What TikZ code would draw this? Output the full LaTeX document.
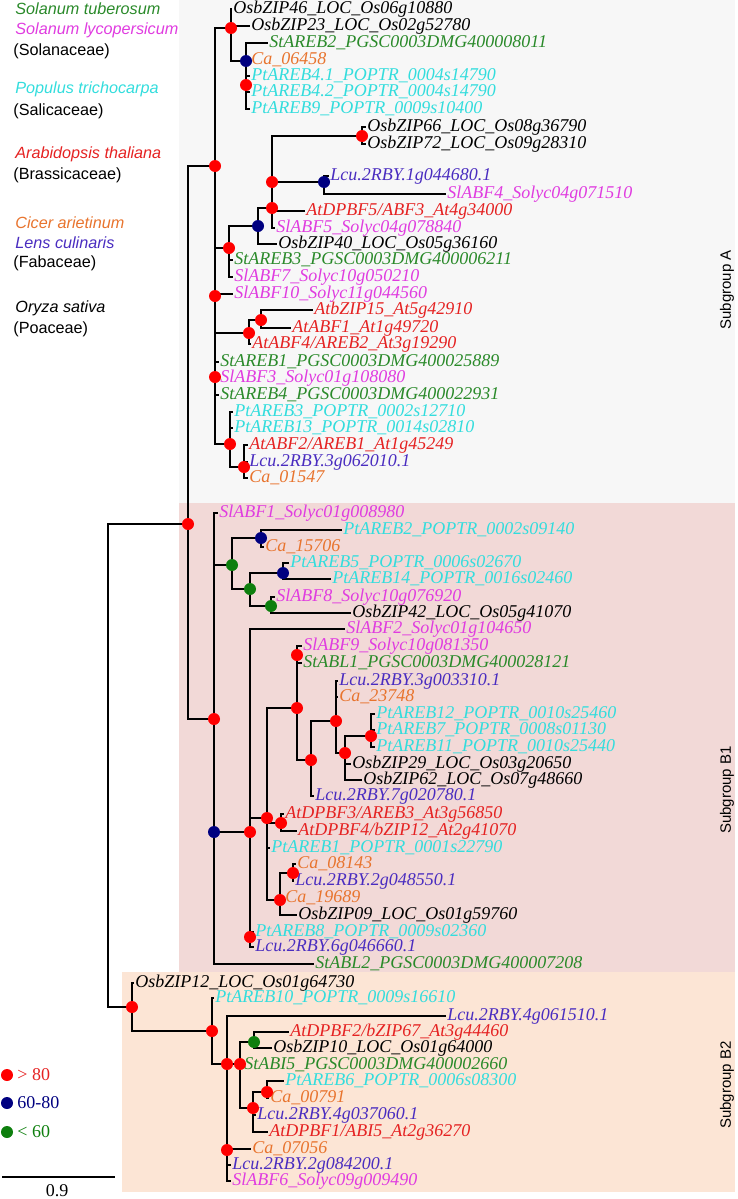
\documentclass[tikz,border=0pt]{standalone}
\usepackage{fontspec}
\setmainfont{Liberation Serif}
\setsansfont{Liberation Sans}
\definecolor{colSt}{HTML}{2A8A2A}
\definecolor{colSl}{HTML}{E03CE0}
\definecolor{colPt}{HTML}{33DDDD}
\definecolor{colAt}{HTML}{E52222}
\definecolor{colCa}{HTML}{E8742E}
\definecolor{colLc}{HTML}{4A2DC0}
\definecolor{dotR}{HTML}{FF0000}
\definecolor{dotB}{HTML}{000080}
\definecolor{dotG}{HTML}{0E7F0E}
\definecolor{bgA}{HTML}{F7F7F7}
\definecolor{bgBa}{HTML}{F2D9D7}
\definecolor{bgBb}{HTML}{FCE5D5}

\begin{document}
\begin{tikzpicture}[x=0.5pt, y=-0.5pt,
    br/.style={line width=1pt},
    lf/.style={anchor=west, inner sep=0.5pt, text height=6.5pt, text depth=2pt,
        font=\fontsize{9}{9}\selectfont\itshape},
    sp/.style={anchor=west, inner sep=0pt, font=\sffamily\itshape\fontsize{8.1}{9}\selectfont},
    fam/.style={anchor=west, inner sep=0pt, font=\sffamily\fontsize{8.1}{9}\selectfont},
    sub/.style={rotate=90, font=\sffamily\fontsize{7.5}{8}\selectfont},
    key/.style={anchor=west, inner sep=0pt, font=\fontsize{9}{9}\selectfont}]

    \useasboundingbox (0,0) rectangle (738,1199);

    % Subgroup backgrounds
    \fill[bgA] (179,0) rectangle (735,503);
    \fill[bgBa] (179,503) rectangle (735,972);
    \fill[bgBb] (122,972) rectangle (735,1192);

    % Subgroup labels
    \node[sub] (subA) at (727,290) {Subgroup A};
    \node[sub] (subBa) at (727,790) {Subgroup B1};
    \node[sub] (subBb) at (727,1085) {Subgroup B2};

    % Species legend
    \node[sp, colSt] (spSt) at (15,9) {Solanum tuberosum};
    \node[sp, colSl] (spSl) at (15,30) {Solanum lycopersicum};
    \node[fam] (faSol) at (13,51) {(Solanaceae)};
    \node[sp, colPt] (spPt) at (15,89) {Populus trichocarpa};
    \node[fam] (faSal) at (13,111) {(Salicaceae)};
    \node[sp, colAt] (spAt) at (15,154) {Arabidopsis thaliana};
    \node[fam] (faBra) at (13,175) {(Brassicaceae)};
    \node[sp, colCa] (spCa) at (15,223) {Cicer arietinum};
    \node[sp, colLc] (spLc) at (15,243) {Lens culinaris};
    \node[fam] (faFab) at (13,263) {(Fabaceae)};
    \node[sp] (spOs) at (15,308) {Oryza sativa};
    \node[fam] (faPoa) at (13,329) {(Poaceae)};

    % Internal nodes
    \coordinate (root) at (108,766);
    \coordinate (nAB) at (188,524);
    % subgroup A
    \coordinate (nA) at (215,166);
    \coordinate (n1) at (231,28);
    \coordinate (nX) at (246,61);
    \coordinate (nY) at (246,85);
    \coordinate (n3) at (229,248);
    \coordinate (n4) at (258,226);
    \coordinate (nQ) at (272,208);
    \coordinate (nQq) at (272,182);
    \coordinate (n66) at (362,136);
    \coordinate (nLc) at (324,182);
    \coordinate (nR) at (215,296);
    \coordinate (nV) at (249,333);
    \coordinate (nW) at (261,320);
    \coordinate (nS) at (215,377);
    \coordinate (nT) at (230,444);
    \coordinate (nU) at (244,467);
    % subgroup B1
    \coordinate (nB1) at (214,719);
    \coordinate (nM) at (232,565);
    \coordinate (nN1) at (261,538);
    \coordinate (nN2) at (250,589);
    \coordinate (nN3) at (283,573);
    \coordinate (nN4) at (271,606);
    \coordinate (nO) at (214,832);
    \coordinate (nB) at (250,832);
    \coordinate (nC) at (267,818);
    \coordinate (nE) at (297,708);
    \coordinate (nE1) at (297,655);
    \coordinate (nI) at (311,760);
    \coordinate (nJ) at (336,721);
    \coordinate (nK) at (345,753);
    \coordinate (nL) at (371,736);
    \coordinate (nF) at (281,823);
    \coordinate (nG) at (280,900);
    \coordinate (nH) at (293,873);
    \coordinate (nD) at (250,937);
    % subgroup B2
    \coordinate (nB2) at (132,1007);
    \coordinate (nP1) at (212,1031);
    \coordinate (nP2) at (227,1064);
    \coordinate (nP3) at (240,1064);
    \coordinate (nG2) at (254,1042);
    \coordinate (nP5) at (253,1108);
    \coordinate (nP6) at (267,1092);
    \coordinate (nP4) at (227,1150);

    % Leaves, subgroup A
    \node[lf] (a1) at (232,9) {OsbZIP46\_LOC\_Os06g10880};
    \node[lf] (a2) at (250,26) {OsbZIP23\_LOC\_Os02g52780};
    \node[lf, colSt] (a3) at (268,43) {StAREB2\_PGSC0003DMG400008011};
    \node[lf, colCa] (a4) at (250,60) {Ca\_06458};
    \node[lf, colPt] (a5) at (250,76) {PtAREB4.1\_POPTR\_0004s14790};
    \node[lf, colPt] (a6) at (250,92) {PtAREB4.2\_POPTR\_0004s14790};
    \node[lf, colPt] (a7) at (250,109) {PtAREB9\_POPTR\_0009s10400};
    \node[lf] (a8) at (366,127) {OsbZIP66\_LOC\_Os08g36790};
    \node[lf] (a9) at (366,144) {OsbZIP72\_LOC\_Os09g28310};
    \node[lf, colLc] (a10) at (329,176) {Lcu.2RBY.1g044680.1};
    \node[lf, colSl] (a11) at (446,194) {SlABF4\_Solyc04g071510};
    \node[lf, colAt] (a12) at (305,211) {AtDPBF5/ABF3\_At4g34000};
    \node[lf, colSl] (a13) at (275,228) {SlABF5\_Solyc04g078840};
    \node[lf] (a14) at (277,244) {OsbZIP40\_LOC\_Os05g36160};
    \node[lf, colSt] (a15) at (233,260) {StAREB3\_PGSC0003DMG400006211};
    \node[lf, colSl] (a16) at (233,277) {SlABF7\_Solyc10g050210};
    \node[lf, colSl] (a17) at (233,294) {SlABF10\_Solyc11g044560};
    \node[lf, colAt] (a18) at (313,310) {AtbZIP15\_At5g42910};
    \node[lf, colAt] (a19) at (291,328) {AtABF1\_At1g49720};
    \node[lf, colAt] (a20) at (251,344) {AtABF4/AREB2\_At3g19290};
    \node[lf, colSt] (a21) at (219,362) {StAREB1\_PGSC0003DMG400025889};
    \node[lf, colSl] (a22) at (219,378) {SlABF3\_Solyc01g108080};
    \node[lf, colSt] (a23) at (219,395) {StAREB4\_PGSC0003DMG400022931};
    \node[lf, colPt] (a24) at (233,412) {PtAREB3\_POPTR\_0002s12710};
    \node[lf, colPt] (a25) at (233,428) {PtAREB13\_POPTR\_0014s02810};
    \node[lf, colAt] (a26) at (248,445) {AtABF2/AREB1\_At1g45249};
    \node[lf, colLc] (a27) at (248,462) {Lcu.2RBY.3g062010.1};
    \node[lf, colCa] (a28) at (248,478) {Ca\_01547};

    % Leaves, subgroup B1
    \node[lf, colSl] (b1) at (218,513) {SlABF1\_Solyc01g008980};
    \node[lf, colPt] (b2) at (342,530) {PtAREB2\_POPTR\_0002s09140};
    \node[lf, colCa] (b3) at (264,547) {Ca\_15706};
    \node[lf, colPt] (b4) at (289,563) {PtAREB5\_POPTR\_0006s02670};
    \node[lf, colPt] (b5) at (331,579) {PtAREB14\_POPTR\_0016s02460};
    \node[lf, colSl] (b6) at (275,597) {SlABF8\_Solyc10g076920};
    \node[lf] (b7) at (351,613) {OsbZIP42\_LOC\_Os05g41070};
    \node[lf, colSl] (b8) at (345,629) {SlABF2\_Solyc01g104650};
    \node[lf, colSl] (b9) at (302,646) {SlABF9\_Solyc10g081350};
    \node[lf, colSt] (b10) at (302,663) {StABL1\_PGSC0003DMG400028121};
    \node[lf, colLc] (b11) at (338,681) {Lcu.2RBY.3g003310.1};
    \node[lf, colCa] (b12) at (338,697) {Ca\_23748};
    \node[lf, colPt] (b13) at (375,714) {PtAREB12\_POPTR\_0010s25460};
    \node[lf, colPt] (b14) at (375,730) {PtAREB7\_POPTR\_0008s01130};
    \node[lf, colPt] (b15) at (375,747) {PtAREB11\_POPTR\_0010s25440};
    \node[lf] (b16) at (351,764) {OsbZIP29\_LOC\_Os03g20650};
    \node[lf] (b17) at (362,780) {OsbZIP62\_LOC\_Os07g48660};
    \node[lf, colLc] (b18) at (314,796) {Lcu.2RBY.7g020780.1};
    \node[lf, colAt] (b19) at (284,814) {AtDPBF3/AREB3\_At3g56850};
    \node[lf, colAt] (b20) at (297,831) {AtDPBF4/bZIP12\_At2g41070};
    \node[lf, colPt] (b21) at (270,848) {PtAREB1\_POPTR\_0001s22790};
    \node[lf, colCa] (b22) at (296,864) {Ca\_08143};
    \node[lf, colLc] (b23) at (294,881) {Lcu.2RBY.2g048550.1};
    \node[lf, colCa] (b24) at (284,898) {Ca\_19689};
    \node[lf] (b25) at (297,915) {OsbZIP09\_LOC\_Os01g59760};
    \node[lf, colPt] (b26) at (254,932) {PtAREB8\_POPTR\_0009s02360};
    \node[lf, colLc] (b27) at (254,947) {Lcu.2RBY.6g046660.1};
    \node[lf, colSt] (b28) at (314,964) {StABL2\_PGSC0003DMG400007208};

    % Leaves, subgroup B2
    \node[lf] (c1) at (134,983) {OsbZIP12\_LOC\_Os01g64730};
    \node[lf, colPt] (c2) at (214,998) {PtAREB10\_POPTR\_0009s16610};
    \node[lf, colLc] (c3) at (446,1016) {Lcu.2RBY.4g061510.1};
    \node[lf, colAt] (c4) at (289,1032) {AtDPBF2/bZIP67\_At3g44460};
    \node[lf] (c5) at (272,1048) {OsbZIP10\_LOC\_Os01g64000};
    \node[lf, colSt] (c6) at (243,1065) {StABI5\_PGSC0003DMG400002660};
    \node[lf, colPt] (c7) at (284,1081) {PtAREB6\_POPTR\_0006s08300};
    \node[lf, colCa] (c8) at (269,1098) {Ca\_00791};
    \node[lf, colLc] (c9) at (256,1115) {Lcu.2RBY.4g037060.1};
    \node[lf, colAt] (c10) at (268,1132) {AtDPBF1/ABI5\_At2g36270};
    \node[lf, colCa] (c11) at (251,1149) {Ca\_07056};
    \node[lf, colLc] (c12) at (231,1165) {Lcu.2RBY.2g084200.1};
    \node[lf, colSl] (c13) at (231,1181) {SlABF6\_Solyc09g009490};

    % Branches (parent/child)
    \foreach \p/\c in {root/nAB, root/nB2, nAB/nA, nAB/nB1,
        nA/n1, nA/n3, nA/nR, n1/a1, n1/a2, n1/nX, nX/a3, nX/a4, nX/nY,
        nY/a5, nY/a6, nY/a7, n3/n4, n3/a15, n3/a16, n4/nQ, n4/a14,
        nQ/nQq, nQ/a12, nQ/a13, nQq/n66, nQq/nLc, n66/a8, n66/a9,
        nLc/a10, nLc/a11, nR/a17, nR/nV, nR/nS, nV/nW, nV/a20,
        nW/a18, nW/a19, nS/a21, nS/a22, nS/a23, nS/nT,
        nT/a24, nT/a25, nT/nU, nU/a26, nU/a27, nU/a28} {
        \draw[br] (\p) |- (\c);
    }
    \foreach \p/\c in {nB1/b1, nB1/nM, nB1/nO, nO/nB, nO/b28,
        nM/nN1, nM/nN2, nN1/b2, nN1/b3, nN2/nN3, nN2/nN4,
        nN3/b4, nN3/b5, nN4/b6, nN4/b7,
        nB/b8, nB/nC, nB/nD, nC/nE, nC/nF, nC/b21, nC/nG,
        nE/nE1, nE/nI, nE1/b9, nE1/b10, nI/nJ, nI/b18,
        nJ/b11, nJ/b12, nJ/nK, nK/nL, nK/b16, nK/b17,
        nL/b13, nL/b14, nL/b15, nF/b19, nF/b20,
        nG/nH, nG/b24, nG/b25, nH/b22, nH/b23, nD/b26, nD/b27} {
        \draw[br] (\p) |- (\c);
    }
    \foreach \p/\c in {nB2/c1, nB2/nP1, nP1/c2, nP1/nP2,
        nP2/c3, nP2/nP3, nP2/nP4, nP3/nG2, nP3/c6, nP3/nP5,
        nG2/c4, nG2/c5, nP5/nP6, nP5/c9, nP5/c10, nP6/c7, nP6/c8,
        nP4/c11, nP4/c12, nP4/c13} {
        \draw[br] (\p) |- (\c);
    }

    % Bootstrap dots
    \foreach \n in {nAB, nA, n1, nY, nQ, nQq, n66, n3, nR, nV, nW, nS, nT, nU,
        nB1, nB, nC, nE, nE1, nI, nJ, nK, nL, nF, nG, nH, nD,
        nB2, nP1, nP2, nP3, nP4, nP5, nP6} {
        \fill[dotR] (\n) circle (3pt);
    }
    \foreach \n in {nX, nLc, n4, nO, nN1, nN3} {
        \fill[dotB] (\n) circle (3pt);
    }
    \foreach \n in {nM, nN2, nN4, nG2} {
        \fill[dotG] (\n) circle (3pt);
    }

    % Bootstrap key
    \fill[dotR] (7,1075) circle (3pt);
    \node[key, colAt] (kR) at (17,1075) {> 80};
    \fill[dotB] (7,1103) circle (3pt);
    \node[key, dotB] (kB) at (17,1103) {60-80};
    \fill[dotG] (7,1132) circle (3pt);
    \node[key, dotG] (kG) at (17,1132) {< 60};

    % Scale bar
    \coordinate (sL) at (2,1177);
    \coordinate (sR) at (115,1177);
    \draw[line width=0.8pt] (sL) -- (sR);
    \node[key, anchor=center] (sLab) at (57,1191) {0.9};

\end{tikzpicture}
\end{document}
